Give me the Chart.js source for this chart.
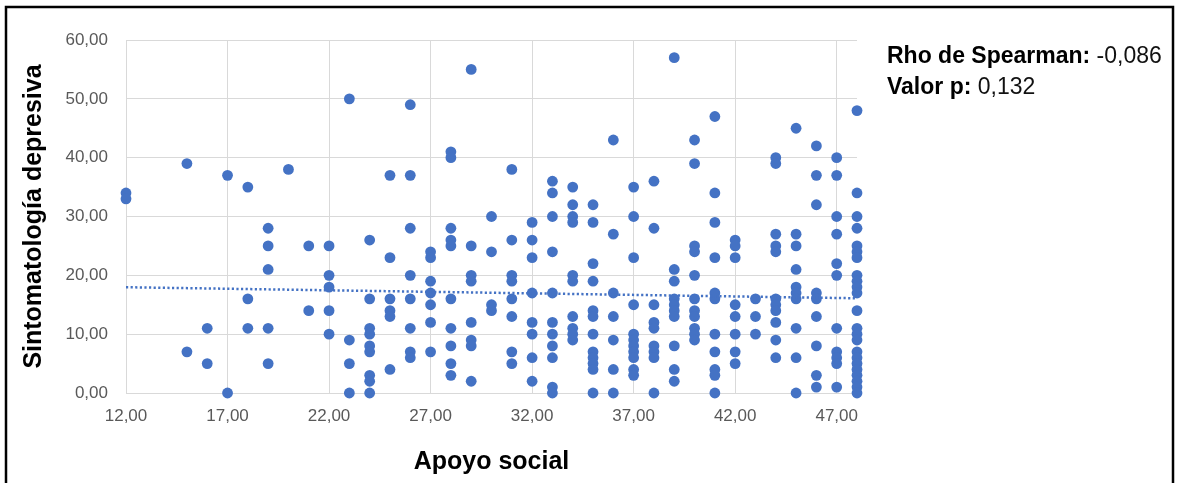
<!DOCTYPE html>
<html lang="es">
<head>
<meta charset="utf-8">
<title>Apoyo social y sintomatología depresiva</title>
<script src="https://cdn.jsdelivr.net/npm/chart.js@4.4.1/dist/chart.umd.min.js"></script>
<style>
  html, body { margin: 0; padding: 0; background: #ffffff; }
  #wrap { width: 1178px; height: 483px; }
</style>
</head>
<body>
<div id="wrap"><canvas id="chart" width="1178" height="483"></canvas></div>
<script>
// Apoyo social scores (x) and, for each, the depressive-symptom scores observed
const apoyoValues = [12, 15, 16, 17, 18, 19, 20, 21, 22, 23, 24, 25, 26, 27, 28, 29, 30,
  31, 32, 33, 34, 35, 36, 37, 38, 39, 40, 41, 42, 43, 44, 45, 46, 47, 48];
const sintomaGroups = [
  [34, 33],
  [39, 7],
  [11, 5],
  [37, 0],
  [35, 16, 11],
  [28, 25, 21, 11, 5],
  [38],
  [25, 14],
  [25, 20, 18, 14, 10],
  [50, 9, 5, 0],
  [26, 16, 11, 10, 8, 7, 3, 2, 0],
  [37, 23, 16, 14, 13, 4],
  [49, 37, 28, 20, 16, 11, 7, 6],
  [24, 23, 19, 17, 15, 12, 7],
  [41, 40, 28, 26, 25, 16, 11, 8, 5, 3],
  [55, 25, 20, 19, 12, 9, 8, 2],
  [30, 24, 15, 14],
  [38, 26, 20, 19, 16, 13, 7, 5],
  [29, 26, 23, 17, 12, 10, 6, 2],
  [36, 34, 30, 24, 17, 12, 10, 8, 6, 1, 0],
  [35, 32, 30, 29, 20, 19, 13, 11, 10, 9],
  [32, 29, 22, 19, 14, 13, 10, 7, 6, 5, 4, 0],
  [43, 27, 17, 13, 9, 4, 0],
  [35, 30, 23, 15, 10, 9, 8, 7, 6, 4, 3],
  [36, 28, 15, 12, 11, 8, 7, 6, 0],
  [57, 21, 19, 16, 15, 14, 13, 8, 4, 2],
  [43, 39, 25, 24, 20, 16, 14, 13, 11, 10, 9],
  [47, 34, 29, 23, 17, 16, 10, 7, 4, 3, 0],
  [26, 25, 23, 15, 13, 10, 7, 5],
  [16, 13, 10],
  [40, 39, 27, 25, 24, 16, 15, 14, 12, 9, 6],
  [45, 27, 25, 21, 18, 17, 16, 11, 6, 0],
  [42, 37, 32, 17, 16, 13, 8, 3, 1],
  [40, 37, 30, 27, 22, 20, 11, 7, 6, 5, 1],
  [48, 34, 30, 28, 25, 24, 23, 20, 19, 18, 17, 14, 11, 10, 9, 7, 6, 5, 4, 3, 2, 1, 0]
];

// Linear trend line (endpoints at the axis limits)
const trendX = [12, 48];
const trendY = [17.98, 16.1];

// Axis ticks
const xTicks = [12, 17, 22, 27, 32, 37, 42, 47];
const yTicks = [0, 10, 20, 30, 40, 50, 60];

// Correlation summary
const rhoLabel = 'Rho de Spearman: ';
const rhoValue = '-0,086';
const pLabel = 'Valor p: ';
const pValue = '0,132';

const BLUE = '#4472C4';
const GRID = '#d9d9d9';
const TICK = '#595959';
const FONT = "'Liberation Sans', Arial, sans-serif";

const points = [];
apoyoValues.forEach((x, i) => sintomaGroups[i].forEach(y => points.push({ x, y })));
const trendPoints = trendX.map((x, i) => ({ x, y: trendY[i] }));

const fmt = v => Number(v).toFixed(2).replace('.', ',');

const frameAndNote = {
  id: 'frameAndNote',
  beforeDraw(chart) {
    const ctx = chart.ctx;
    ctx.save();
    ctx.fillStyle = '#ffffff';
    ctx.fillRect(0, 0, chart.width, chart.height);
    ctx.restore();
  },
  afterDraw(chart) {
    const ctx = chart.ctx;
    ctx.save();
    ctx.strokeStyle = '#000000';
    ctx.lineWidth = 2.5;
    ctx.strokeRect(6, 7, 1167, 520);

    const lines = [[rhoLabel, rhoValue, 63], [pLabel, pValue, 94]];
    ctx.textBaseline = 'alphabetic';
    ctx.textAlign = 'left';
    lines.forEach(([label, value, y]) => {
      const x0 = 887;
      ctx.font = 'bold 23px ' + FONT;
      ctx.fillStyle = '#000000';
      ctx.fillText(label, x0, y);
      const w = ctx.measureText(label).width;
      ctx.font = '23px ' + FONT;
      ctx.fillStyle = '#111111';
      ctx.fillText(value, x0 + w, y);
    });
    ctx.restore();
  }
};

new Chart(document.getElementById('chart'), {
  data: {
    datasets: [
      {
        type: 'line',
        label: 'Tendencia',
        data: trendPoints,
        borderColor: BLUE,
        borderWidth: 2.5,
        borderDash: [2.2, 2.4],
        pointRadius: 0,
        fill: false,
        order: 0
      },
      {
        type: 'scatter',
        label: 'Sintomatología depresiva',
        data: points,
        backgroundColor: BLUE,
        borderColor: BLUE,
        borderWidth: 0,
        pointRadius: 5.4,
        pointHoverRadius: 5.4,
        clip: false,
        order: 1
      }
    ]
  },
  options: {
    responsive: false,
    animation: false,
    events: [],
    layout: { padding: { left: 0, right: 321, top: 40, bottom: 0 } },
    plugins: { legend: { display: false }, tooltip: { enabled: false } },
    scales: {
      x: {
        type: 'linear',
        min: 12,
        max: 48,
        afterBuildTicks: s => { s.ticks = xTicks.map(v => ({ value: v })); },
        afterFit: s => { s.height = 90; },
        grid: { color: GRID, lineWidth: 1, drawTicks: false },
        border: { display: true, color: GRID, width: 1 },
        ticks: {
          padding: 13,
          color: TICK,
          font: { family: FONT, size: 17 },
          maxRotation: 0,
          callback: v => fmt(v)
        },
        title: {
          display: true,
          text: 'Apoyo social',
          color: '#000000',
          font: { family: FONT, size: 25, weight: 'bold' },
          padding: { top: 0, bottom: 6 }
        }
      },
      y: {
        type: 'linear',
        min: 0,
        max: 60,
        afterBuildTicks: s => { s.ticks = yTicks.map(v => ({ value: v })); },
        afterFit: s => { s.width = 126; },
        grid: { color: GRID, lineWidth: 1, drawTicks: false },
        border: { display: true, color: GRID, width: 1 },
        ticks: {
          padding: 18,
          color: TICK,
          font: { family: FONT, size: 17 },
          callback: v => fmt(v)
        },
        title: {
          display: true,
          text: 'Sintomatología depresiva',
          color: '#000000',
          font: { family: FONT, size: 25, weight: 'bold' },
          padding: { top: 19, bottom: 0 }
        }
      }
    }
  },
  plugins: [frameAndNote]
});
</script>
</body>
</html>
